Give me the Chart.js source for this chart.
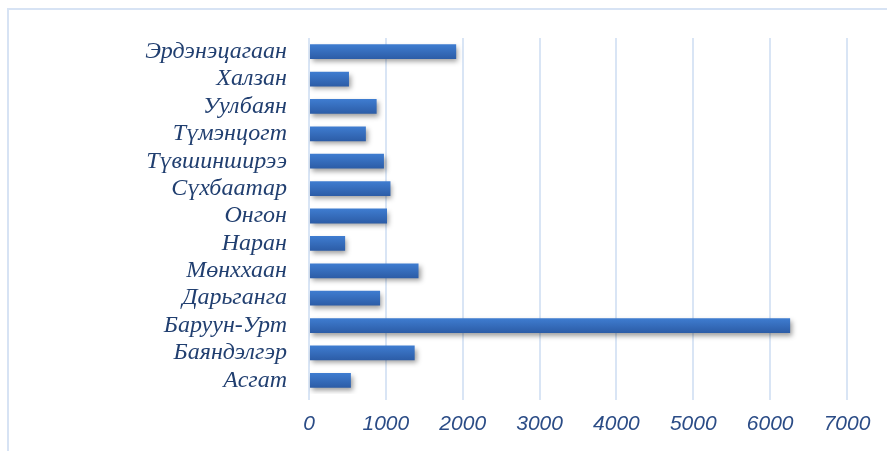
<!DOCTYPE html>
<html>
<head>
<meta charset="utf-8">
<script src="https://cdn.jsdelivr.net/npm/chart.js@4/dist/chart.umd.min.js"></script>
<style>
html,body{margin:0;padding:0;background:#fff;}
#wrap{position:relative;width:887px;height:451px;}
</style>
</head>
<body>
<div id="wrap"><canvas id="c" width="887" height="451"></canvas></div>
<script>
const categories = ["Эрдэнэцагаан","Халзан","Уулбаян","Түмэнцогт","Түвшинширээ","Сүхбаатар","Онгон","Наран","Мөнххаан","Дарьганга","Баруун-Урт","Баяндэлгэр","Асгат"];
const values = [1915, 520, 880, 740, 975, 1060, 1015, 470, 1425, 925, 6260, 1375, 545];
const xTicks = [0,1000,2000,3000,4000,5000,6000,7000];

const frame = {
  id:'frame',
  beforeDraw(chart){
    const ctx=chart.ctx;
    ctx.save();
    ctx.strokeStyle='#d7e3f4';
    ctx.lineWidth=2;
    ctx.beginPath();
    ctx.moveTo(8,451);ctx.lineTo(8,9);ctx.lineTo(887,9);
    ctx.stroke();
    ctx.restore();
  }
};
const shadow = {
  id:'shadow',
  beforeDatasetsDraw(chart){
    const ctx=chart.ctx;
    ctx.save();
    ctx.shadowColor='rgba(0,0,0,0.38)';
    ctx.shadowBlur=5;
    ctx.shadowOffsetX=2;
    ctx.shadowOffsetY=3;
  },
  afterDatasetsDraw(chart){ chart.ctx.restore(); }
};

new Chart(document.getElementById('c'),{
  type:'bar',
  data:{labels:categories,datasets:[{data:values,
    backgroundColor:(c)=>{
      const chart=c.chart;
      const ys=chart.scales && chart.scales.y;
      if(!ys || !chart.chartArea) return '#3a6fbf';
      const py=ys.getPixelForValue(c.dataIndex);
      const g=chart.ctx.createLinearGradient(0,py-7.5,0,py+7.5);
      g.addColorStop(0,'#3f7dd1');
      g.addColorStop(1,'#2c5ca6');
      return g;
    },
    borderWidth:0,
    barPercentage:0.54,categoryPercentage:1}]},
  options:{
    indexAxis:'y',
    responsive:false,
    animation:false,
    devicePixelRatio:1,
    layout:{padding:{top:38,right:40,left:0,bottom:0}},
    plugins:{legend:{display:false},tooltip:{enabled:false}},
    scales:{
      x:{
        min:0,max:7000,
        afterBuildTicks(s){ s.ticks = xTicks.map(v=>({value:v})); },
        afterFit(s){ s.height=57; },
        grid:{color:'#d9e5f5',lineWidth:2,tickLength:6,drawTicks:true},
        border:{display:false},
        ticks:{padding:12,color:'#2b4c86',callback:(v)=>String(v),font:{family:'"Liberation Sans", Arial, sans-serif',size:21,style:'italic'},maxRotation:0,autoSkip:false}
      },
      y:{
        afterFit(s){ s.width=309; },
        grid:{display:false},
        border:{display:false},
        ticks:{padding:14,color:'#213f70',font:{family:'"Liberation Serif", "Times New Roman", serif',size:24,style:'italic'},autoSkip:false}
      }
    }
  },
  plugins:[frame,shadow]
});
</script>
</body>
</html>
